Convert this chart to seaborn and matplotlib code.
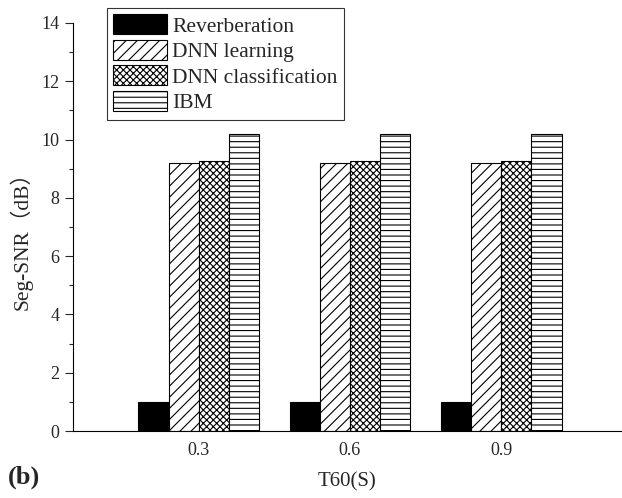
import matplotlib
matplotlib.use("Agg")
import matplotlib.pyplot as plt
from matplotlib.ticker import MultipleLocator
import pandas as pd
import seaborn as sns

# data
t60 = ["0.3", "0.6", "0.9"]
methods = ["Reverberation", "DNN learning", "DNN classification", "IBM"]
reverberation = [1.0, 1.0, 1.0]
dnn_learning = [9.2, 9.2, 9.2]
dnn_classification = [9.25, 9.25, 9.25]
ibm = [10.2, 10.2, 10.2]

rows = []
for name, vals in zip(methods, [reverberation, dnn_learning, dnn_classification, ibm]):
    for t, v in zip(t60, vals):
        rows.append({"T60": t, "method": name, "snr": v})
df = pd.DataFrame(rows)

sns.set_style("ticks")
plt.rcParams['font.family'] = ['Liberation Serif', 'Noto Sans CJK SC']
plt.rcParams['hatch.linewidth'] = 0.8

fig = plt.figure(figsize=(6.22, 4.98), dpi=100)
ax = fig.add_axes([0.117, 0.1345, 0.883, 0.8195])

sns.barplot(data=df, x="T60", y="snr", hue="method", hue_order=methods,
            order=t60, width=0.8, ax=ax, legend=False, errorbar=None,
            palette=["black", "white", "white", "white"], saturation=1)

hatches = [None, "///", "xxxxx", "---"]
for cont, h in zip(ax.containers, hatches):
    for p in cont:
        p.set_edgecolor("black")
        p.set_linewidth(0.8)
        if h:
            p.set_hatch(h)

ax.set_xlim(-0.834, 2.80)
ax.set_ylim(0, 14)
ax.yaxis.set_major_locator(MultipleLocator(2))
ax.yaxis.set_minor_locator(MultipleLocator(1))
ax.tick_params(axis="y", which="major", length=6, width=0.8, direction="out", labelsize=13)
ax.tick_params(axis="y", which="minor", length=3, width=0.8, direction="out")
ax.tick_params(axis="x", length=0, labelsize=13, pad=8)
for s in ["top", "right"]:
    ax.spines[s].set_visible(False)
for s in ["left", "bottom"]:
    ax.spines[s].set_color("black")
    ax.spines[s].set_linewidth(0.8)

ax.set_xlabel("T60(S)", fontsize=15)
ax.set_ylabel("Seg-SNR（dB）", fontsize=15.5)
ax.xaxis.set_label_coords(0.5, -0.101)
ax.yaxis.set_label_coords(-0.073, 0.48)

handles = [cont[0] for cont in ax.containers]
leg = ax.legend(handles, methods, loc="upper left", bbox_to_anchor=(0.062, 1.037),
                fontsize=15.5, frameon=True, fancybox=False, edgecolor="black",
                handlelength=2.5, handleheight=1.05, handletextpad=0.25,
                labelspacing=0.15, borderpad=0.3, borderaxespad=0)
leg.get_frame().set_linewidth(0.8)

fig.text(0.012, 0.028, "(b)", fontsize=19, fontweight="bold")

plt.savefig("out.png", dpi=100)
